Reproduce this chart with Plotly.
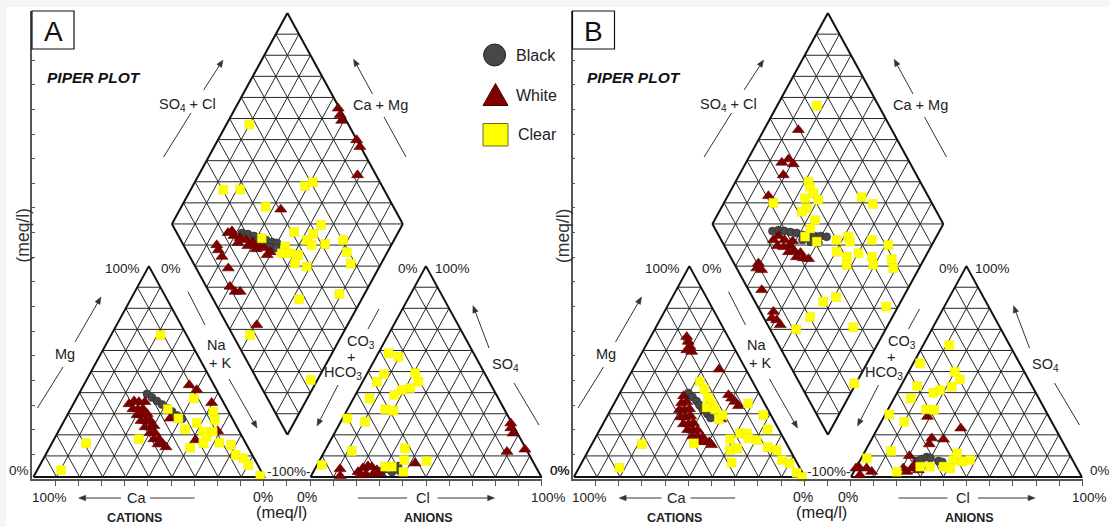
import numpy as np
import plotly.graph_objects as go

W, H = 1109, 527
SHIFT = 540.5          # horizontal offset of panel B (px)
S3 = np.sqrt(3) / 2
GAP = 20.0             # gap between the two ternary triangles (data units)
FONT = "Liberation Sans, Arial, sans-serif"

# ---------------- data (percent of meq/l) ----------------
# cation triangle: (Mg %, Na+K %)
A_CAT_BLACK = [(39.4, 29.5), (37.7, 32.5), (36.0, 35.5), (34.4, 38.5), (32.7, 41.5),
               (31.1, 44.5), (29.2, 47.6), (27.5, 50.6)]
A_CAT_WHITE = [(34.6, 24.1), (36.0, 25.6), (35.6, 27.9), (35.6, 30.5), (32.2, 27.0), (32.2, 29.2),
               (32.2, 31.4), (29.4, 30.2), (29.4, 32.3), (29.9, 34.3), (26.6, 33.3), (26.6, 35.5),
               (27.0, 37.0), (23.7, 36.5), (23.7, 38.7), (24.2, 40.1), (20.9, 40.1), (20.9, 42.2),
               (18.0, 43.2), (18.0, 45.4), (15.6, 46.2), (15.6, 48.3), (14.2, 50.3),
               (43.6, 45.7), (41.3, 50.1), (35.2, 59.6), (27.8, 45.3), (17.5, 61.5), (21.8, 68.9)]
A_CAT_CLEAR = [(67.3, 21.4), (16.0, 14.8), (3.3, 10.3), (18.0, 36.7), (32.2, 42.1), (27.8, 48.9),
               (37.3, 50.9), (22.6, 54.4), (25.7, 57.9), (21.5, 62.8), (19.1, 65.5), (31.0, 62.4),
               (27.0, 65.1), (21.5, 66.9), (16.0, 65.6), (16.3, 72.4), (13.9, 60.9), (15.2, 78.0),
               (10.4, 82.4), (8.9, 86.5), (5.7, 90.2), (0.5, 98.0)]
B_CAT_BLACK = [(39.8, 29.7), (37.9, 32.4), (36.0, 35.1), (34.1, 37.3), (32.2, 40.0), (29.9, 42.9),
               (28.0, 45.2)]
B_CAT_WHITE = [(66.5, 15.6), (64.2, 17.4), (61.8, 19.4), (60.2, 18.8), (59.4, 21.3), (51.1, 37.3),
               (38.9, 47.5), (37.3, 49.7), (35.7, 52.0), (33.7, 54.4), (27.4, 49.9),
               (38.4, 28.3), (35.1, 29.1), (35.6, 31.0), (31.8, 29.8), (31.8, 32.0), (32.2, 34.0),
               (28.4, 32.0), (28.4, 34.1), (28.9, 36.1), (25.1, 34.9), (25.1, 37.1), (25.6, 39.0),
               (22.3, 38.1), (22.3, 40.2), (22.3, 42.4), (19.4, 41.7), (19.4, 43.8), (19.0, 46.2),
               (17.1, 45.4), (16.6, 48.3), (16.6, 50.4), (15.2, 52.0)]
B_CAT_CLEAR = [(15.6, 21.6), (4.4, 17.5), (16.0, 44.0), (45.2, 32.0), (41.6, 35.7), (37.8, 39.3),
               (34.9, 42.2), (33.0, 41.0), (32.1, 45.0), (27.4, 49.1), (29.4, 49.6), (34.9, 58.0),
               (29.4, 67.3), (22.6, 72.6), (17.9, 58.7), (20.7, 61.6), (20.7, 64.5), (18.4, 66.3),
               (17.5, 70.4), (12.8, 61.2), (13.6, 64.0), (14.1, 76.9), (12.8, 81.4), (6.8, 64.9),
               (8.1, 86.0), (6.5, 90.1), (2.0, 95.5), (0.1, 98.6)]

# anion triangle: (SO4 %, Cl %)
A_AN_BLACK = [(3.3, 29.7), (3.8, 31.7), (4.7, 33.4), (5.2, 35.3), (2.8, 37.4), (2.4, 34.1)]
A_AN_WHITE = [(3.8, 10.9), (0.5, 12.6), (2.4, 19.4), (4.3, 20.6), (5.2, 22.3), (4.7, 24.3),
              (3.3, 27.1), (1.4, 23.3), (1.4, 26.4), (1.9, 29.2), (0.9, 21.4), (6.5, 42.0),
              (25.5, 74.0), (20.7, 77.4), (12.0, 79.1), (13.1, 86.3), (23.2, 75.2)]
A_AN_CLEAR = [(58.7, 4.4), (57.0, 9.5), (48.8, 7.4), (45.2, 6.1), (49.2, 20.7), (45.2, 24.1),
              (42.1, 22.1), (41.3, 18.9), (38.9, 16.8), (37.3, 6.9), (32.1, 16.3), (31.4, 20.2),
              (27.8, 2.0), (26.2, 10.5), (12.3, 11.7), (5.7, 2.0), (13.6, 34.1), (7.6, 46.5),
              (8.1, 36.5), (2.5, 39.0), (4.9, 32.8), (4.9, 29.9)]
B_AN_BLACK = [(7.6, 24.6), (8.5, 26.3), (9.5, 28.0), (9.0, 29.9), (7.6, 34.1), (7.1, 36.0)]
B_AN_WHITE = [(28.6, 18.8), (23.1, 36.0), (18.4, 25.8), (15.6, 26.1), (17.9, 31.1), (10.0, 20.3),
              (4.9, 0.8), (4.1, 4.7), (2.5, 7.7), (0.9, 3.4), (4.1, 0.1), (4.1, 20.6), (4.1, 24.2),
              (5.7, 24.9), (2.5, 22.9), (3.3, 27.5)]
B_AN_CLEAR = [(62.6, 11.3), (53.9, 2.9), (49.9, 20.0), (46.3, 24.0), (42.8, 22.2), (41.3, 18.0),
              (40.0, 15.7), (43.1, 7.1), (37.3, 7.2), (32.1, 16.5), (31.8, 20.1), (29.7, 1.7),
              (26.2, 10.0), (12.3, 11.2), (8.9, 2.4), (2.5, 18.6), (4.9, 31.8), (4.9, 37.6),
              (8.1, 40.3), (7.3, 44.4), (8.1, 47.5), (4.1, 40.9), (4.9, 27.5), (11.2, 40.4)]

# diamond: (Na+K %, SO4+Cl %)
A_DIA_BLACK = [(32.5, 28.2), (35.3, 30.5), (38.4, 32.7), (41.4, 34.8), (44.5, 36.9), (47.6, 39.0),
               (50.0, 41.0), (43.8, 34.3), (48.0, 37.1), (50.8, 39.4), (40.5, 32.4)]
A_DIA_WHITE = [(44.6, 99.4), (47.0, 98.7), (49.0, 98.0), (60.1, 99.9), (63.1, 99.7), (68.8, 92.0),
               (43.7, 50.6), (26.4, 22.2), (29.7, 24.1), (32.8, 26.2), (35.9, 28.3), (39.0, 30.5),
               (42.3, 32.3), (45.6, 34.2), (49.2, 35.9), (48.6, 33.9), (33.1, 24.1), (38.1, 27.7),
               (42.4, 30.5), (27.7, 24.3), (24.4, 14.4), (26.3, 13.9), (29.4, 13.9), (34.9, 13.9),
               (40.0, 10.3), (43.4, 11.3), (45.6, 13.5), (60.7, 12.8)]
A_DIA_CLEAR = [(9.9, 57.1), (14.1, 30.3), (21.3, 37.7), (48.6, 66.6), (51.1, 70.9), (36.5, 44.7),
               (42.3, 35.5), (54.8, 51.0), (64.9, 64.4), (63.6, 58.8), (62.2, 54.6), (65.5, 55.5),
               (71.1, 61.6), (54.4, 43.7), (54.5, 40.6), (58.1, 44.2), (62.1, 47.4), (62.6, 44.0),
               (68.5, 48.3), (78.0, 70.4), (82.4, 69.0), (86.8, 68.0), (72.9, 37.2), (89.1, 55.9),
               (60.1, 7.5), (97.1, 23.1)]
B_DIA_BLACK = [(27.7, 24.3), (30.1, 27.2), (32.8, 29.5), (35.7, 31.9), (38.6, 34.3), (41.6, 36.4),
               (44.5, 38.8), (47.1, 41.4), (49.7, 44.0), (52.5, 46.4), (46.8, 38.3), (50.4, 41.4),
               (42.8, 35.2)]
B_DIA_WHITE = [(14.9, 59.5), (15.5, 44.6), (17.6, 48.3), (20.8, 49.2), (19.1, 42.3), (17.6, 30.9),
               (30.2, 22.6), (31.5, 25.8), (35.0, 27.4), (33.4, 23.0), (36.3, 25.4), (38.6, 28.2),
               (39.6, 26.3), (41.9, 29.1), (45.0, 31.3), (44.3, 28.6), (47.5, 31.3), (49.9, 33.3),
               (38.8, 30.7), (29.2, 10.6), (29.7, 8.7), (32.2, 10.4), (37.0, 5.7), (47.2, 5.6),
               (50.6, 5.0), (53.3, 5.4), (48.0, 3.4)]
B_DIA_CLEAR = [(17.2, 73.3), (31.5, 51.6), (33.5, 51.1), (36.5, 51.0), (34.0, 46.2), (40.1, 51.5),
               (37.1, 44.5), (35.8, 41.6), (43.5, 45.3), (43.4, 41.3), (43.1, 37.1), (49.4, 41.0),
               (21.4, 31.4), (58.3, 71.0), (64.7, 74.2), (57.6, 50.0), (61.8, 55.8), (63.8, 55.4),
               (72.8, 65.2), (81.2, 71.2), (60.4, 47.2), (70.2, 56.3), (65.9, 50.4), (76.8, 61.3),
               (86.0, 69.3), (67.8, 48.4), (79.4, 60.0), (88.8, 67.8), (66.4, 29.6), (70.8, 36.2),
               (94.8, 55.6), (64.4, 20.2), (61.2, 11.3), (85.5, 36.5), (99.2, 23.6)]

SERIES = ["Black", "White", "Clear"]
TICK_PCT = list(range(10, 100, 10))


# ---------------- projections ----------------
def cat_xy(pairs):
    mg = np.array([p[0] for p in pairs], float)
    nak = np.array([p[1] for p in pairs], float)
    return nak + mg / 2, mg * S3


def an_xy(pairs):
    so4 = np.array([p[0] for p in pairs], float)
    cl = np.array([p[1] for p in pairs], float)
    return 100 + GAP + cl + so4 / 2, so4 * S3


LX, LY = 50 + GAP / 2, GAP * S3 + 100 * S3   # left vertex of diamond


def dia_pt(a, b):
    return LX + 50 * (a + b), LY + 100 * S3 * (b - a)


def dia_xy(pairs):
    a = np.array([p[0] for p in pairs], float) / 100
    b = np.array([p[1] for p in pairs], float) / 100
    return dia_pt(a, b)


# ---------------- grid geometry ----------------
def build_grid():
    gx, gy, ox, oy = [], [], [], []

    def seg(X, Y, p, q):
        X += [p[0], q[0], None]
        Y += [p[1], q[1], None]

    for off in (0.0, 100 + GAP):
        for t in TICK_PCT:
            seg(gx, gy, (off + t / 2, t * S3), (off + 100 - t / 2, t * S3))
            seg(gx, gy, (off + t, 0), (off + 50 + t / 2, (100 - t) * S3))
            seg(gx, gy, (off + t, 0), (off + t / 2, t * S3))
        ox += [off, off + 100, off + 50, off, None]
        oy += [0, 0, 100 * S3, 0, None]
    for t in TICK_PCT:
        f = t / 100
        seg(gx, gy, dia_pt(f, 0), dia_pt(f, 1))
        seg(gx, gy, dia_pt(0, f), dia_pt(1, f))
        seg(gx, gy, dia_pt(0, f), dia_pt(1 - f, 1))
        seg(gx, gy, dia_pt(f, 0), dia_pt(1, 1 - f))
    seg(gx, gy, dia_pt(0, 0), dia_pt(1, 1))
    for p, q in [((0, 0), (1, 0)), ((1, 0), (1, 1)), ((1, 1), (0, 1)), ((0, 1), (0, 0))]:
        seg(ox, oy, dia_pt(*p), dia_pt(*q))
    return gx, gy, ox, oy


GX, GY, OX, OY = build_grid()

STYLE = {
    "Black": dict(symbol="circle", size=8, color="#474747", line=dict(color="#2e2e2e", width=0.6)),
    "White": dict(symbol="triangle-up", size=10.5, color="#800000", line=dict(color="#5c0000", width=0.6)),
    "Clear": dict(symbol="square", size=9, color="#ffff00", line=dict(color="#e6e600", width=0.4)),
}

PANELS = {
    "A": dict(xa="x", ya="y",
              cat=dict(Black=A_CAT_BLACK, White=A_CAT_WHITE, Clear=A_CAT_CLEAR),
              an=dict(Black=A_AN_BLACK, White=A_AN_WHITE, Clear=A_AN_CLEAR),
              dia=dict(Black=A_DIA_BLACK, White=A_DIA_WHITE, Clear=A_DIA_CLEAR)),
    "B": dict(xa="x2", ya="y2",
              cat=dict(Black=B_CAT_BLACK, White=B_CAT_WHITE, Clear=B_CAT_CLEAR),
              an=dict(Black=B_AN_BLACK, White=B_AN_WHITE, Clear=B_AN_CLEAR),
              dia=dict(Black=B_DIA_BLACK, White=B_DIA_WHITE, Clear=B_DIA_CLEAR)),
}

fig = go.Figure()
for name, p in PANELS.items():
    fig.add_trace(go.Scatter(x=GX, y=GY, mode="lines", xaxis=p["xa"], yaxis=p["ya"],
                             line=dict(color="#262626", width=1), hoverinfo="skip", showlegend=False))
    fig.add_trace(go.Scatter(x=OX, y=OY, mode="lines", xaxis=p["xa"], yaxis=p["ya"],
                             line=dict(color="#111111", width=2), hoverinfo="skip", showlegend=False))
    for s in SERIES:
        xs, ys = [], []
        for key, proj in (("cat", cat_xy), ("an", an_xy), ("dia", dia_xy)):
            x, y = proj(p[key][s])
            xs += list(x)
            ys += list(y)
        fig.add_trace(go.Scatter(x=xs, y=ys, mode="markers", xaxis=p["xa"], yaxis=p["ya"],
                                 marker=STYLE[s], name=s, showlegend=False, cliponaxis=False))

# ---------------- axes (frame) ----------------
XR = [-0.606, 220.27]
YR = [-0.82, 191.38]
XT = [9.4 + 10.04 * k for k in range(22)]
YT = [9.3 + 10.12 * k for k in range(17)]
ax_common = dict(showgrid=False, zeroline=False, showticklabels=False,
                 showline=True, linecolor="#555555", linewidth=1.5, tickcolor="#555555",
                 tickwidth=1, fixedrange=True, tickmode="array")
ydom = [1 - 479 / H, 1 - 11 / H]
layout_axes = {}
for i, off in enumerate((0.0, SHIFT)):
    sfx = "" if i == 0 else str(i + 1)
    layout_axes["xaxis" + sfx] = dict(ax_common, domain=[(32 + off) / W, (542 + off) / W], range=XR,
                                      tickvals=XT, ticks="outside", ticklen=5, anchor="y" + sfx)
    layout_axes["yaxis" + sfx] = dict(ax_common, domain=ydom, range=YR, tickvals=YT,
                                      ticks="inside", ticklen=3, anchor="x" + sfx)

# ---------------- annotations & shapes ----------------
ann, shapes = [], []


def px(x, y):
    return x / W, 1 - y / H


def text(x, y, s, size=14, color="#222222", angle=0, anchor="center"):
    X, Y = px(x, y)
    ann.append(dict(x=X, y=Y, xref="paper", yref="paper", text=s, showarrow=False, textangle=angle,
                    xanchor=anchor, yanchor="middle", font=dict(family=FONT, size=size, color=color)))


def line(x0, y0, x1, y1):
    X0, Y0 = px(x0, y0)
    X1, Y1 = px(x1, y1)
    shapes.append(dict(type="line", xref="paper", yref="paper", x0=X0, y0=Y0, x1=X1, y1=Y1,
                       line=dict(color="#333333", width=1)))


def arrow(tx, ty, hx, hy, hl=7.0, hw=2.8):
    dx, dy = hx - tx, hy - ty
    n = (dx * dx + dy * dy) ** 0.5
    ux, uy = dx / n, dy / n
    bx, by = hx - hl * ux, hy - hl * uy
    line(tx, ty, bx, by)
    p1 = px(hx, hy)
    p2 = px(bx - hw * uy, by + hw * ux)
    p3 = px(bx + hw * uy, by - hw * ux)
    shapes.append(dict(type="path", xref="paper", yref="paper",
                       path=f"M {p1[0]} {p1[1]} L {p2[0]} {p2[1]} L {p3[0]} {p3[1]} Z",
                       fillcolor="#333333", line=dict(color="#333333", width=0.5)))


# faint page border (top/left)
shapes.append(dict(type="rect", xref="paper", yref="paper", x0=0, x1=1, y0=1 - 7 / H, y1=1,
                   fillcolor="#f4f5f7", line=dict(width=0), layer="below"))
shapes.append(dict(type="rect", xref="paper", yref="paper", x0=0, x1=6 / W, y0=0, y1=1,
                   fillcolor="#f4f5f7", line=dict(width=0), layer="below"))

for letter, off in (("A", 0.0), ("B", SHIFT)):
    o = off
    # panel letter box
    x0, y0 = px(32 + o, 11)
    x1, y1 = px(74 + o, 49)
    shapes.append(dict(type="rect", xref="paper", yref="paper", x0=x0, y0=y1, x1=x1, y1=y0,
                       fillcolor="white", line=dict(color="#111111", width=1.2)))
    text(53 + o, 31, letter, size=28, color="#111111")
    text(93.5 + o, 78, "<b><i>PIPER PLOT</i></b>", size=15.5, color="#111111")
    text(22.5 + o, 236, "(meq/l)", size=17.5, color="#333333", angle=-90)

    # diamond labels & arrows
    text(187.5 + o, 105, "SO<sub>4</sub> + Cl", size=14.5)
    arrow(203.6 + o, 90, 223 + o, 60)
    line(191 + o, 113, 163.6 + o, 157)
    text(380 + o, 105, "Ca + Mg", size=14.5)
    arrow(372.5 + o, 94, 353.6 + o, 59.3)
    line(384 + o, 117, 406 + o, 157)

    # cation triangle labels
    text(122 + o, 268, "100%", size=13.5)
    text(171 + o, 268, "0%", size=13.5)
    text(19 + o, 470, "0%", size=13.5)
    text(288.5 + o, 471, "-100%-", size=13.5)
    text(65.4 + o, 354, "Mg", size=14.5)
    line(37.5 + o, 408, 63 + o, 367)
    arrow(75 + o, 342, 101 + o, 297)
    text(216 + o, 345, "Na", size=14.5)
    text(219.6 + o, 363.3, "+ K", size=14.5)
    line(188 + o, 291.7, 205 + o, 325)
    arrow(229 + o, 379, 257 + o, 428)

    # anion triangle labels
    text(408 + o, 268, "0%", size=13.5)
    text(452 + o, 268, "100%", size=13.5)
    text(559.5 + o, 470, "0%", size=13.5)
    text(361 + o, 341.7, "CO<sub>3</sub>", size=14.5)
    text(350.5 + o, 356.7, "+", size=14.5)
    text(343 + o, 372.5, "HCO<sub>3</sub>", size=14.5)
    line(379 + o, 309, 368 + o, 329)
    arrow(338 + o, 385, 317 + o, 426)
    text(505.4 + o, 365, "SO<sub>4</sub>", size=14.5)
    arrow(489 + o, 348, 473 + o, 305.7)
    line(514 + o, 383, 539 + o, 425)

    # bottom labels
    text(49 + o, 497, "100%", size=13.5)
    text(262.5 + o, 497, "0%", size=14)
    text(307 + o, 497, "0%", size=14)
    text(548.5 + o, 497, "100%", size=13.5)
    text(136 + o, 498, "Ca", size=14.5)
    arrow(121 + o, 498, 78.6 + o, 498)
    line(150 + o, 498, 194.6 + o, 498)
    text(422.5 + o, 498, "Cl", size=14.5)
    line(358 + o, 498, 407 + o, 498)
    arrow(437.5 + o, 498, 494.6 + o, 498)
    text(281 + o, 512, "(meq/l)", size=16.5)
    text(134 + o, 518, "<b>CATIONS</b>", size=12.5)
    text(428.6 + o, 518, "<b>ANIONS</b>", size=12.5)

# legend (panel A)
cx0, cy0 = px(483.6, 44)
cx1, cy1 = px(505.6, 66)
shapes.append(dict(type="circle", xref="paper", yref="paper", x0=cx0, y0=cy1, x1=cx1, y1=cy0,
                   fillcolor="#474747", line=dict(color="#222222", width=1)))
t1, t2, t3 = px(483, 105.5), px(508, 105.5), px(495.5, 83.5)
shapes.append(dict(type="path", xref="paper", yref="paper",
                   path=f"M {t1[0]} {t1[1]} L {t2[0]} {t2[1]} L {t3[0]} {t3[1]} Z",
                   fillcolor="#800000", line=dict(color="#4a0000", width=1)))
s0, s1 = px(483, 123.5), px(508, 146)
shapes.append(dict(type="rect", xref="paper", yref="paper", x0=s0[0], y0=s1[1], x1=s1[0], y1=s0[1],
                   fillcolor="#ffff00", line=dict(color="#6b6b2a", width=1)))
text(514, 55, "Black", size=16, anchor="left")
text(514, 95, "White", size=16, anchor="left")
text(516, 135, "Clear", size=16, anchor="left")

fig.update_layout(
    width=W, height=H, margin=dict(l=0, r=0, t=0, b=0),
    paper_bgcolor="white", plot_bgcolor="rgba(0,0,0,0)",
    showlegend=False, annotations=ann, shapes=shapes, **layout_axes,
)
fig.write_html("out.html", config={"displayModeBar": False},
               post_script="document.body.style.margin='0';document.body.style.padding='0';"
                           "document.body.style.overflow='hidden';")
